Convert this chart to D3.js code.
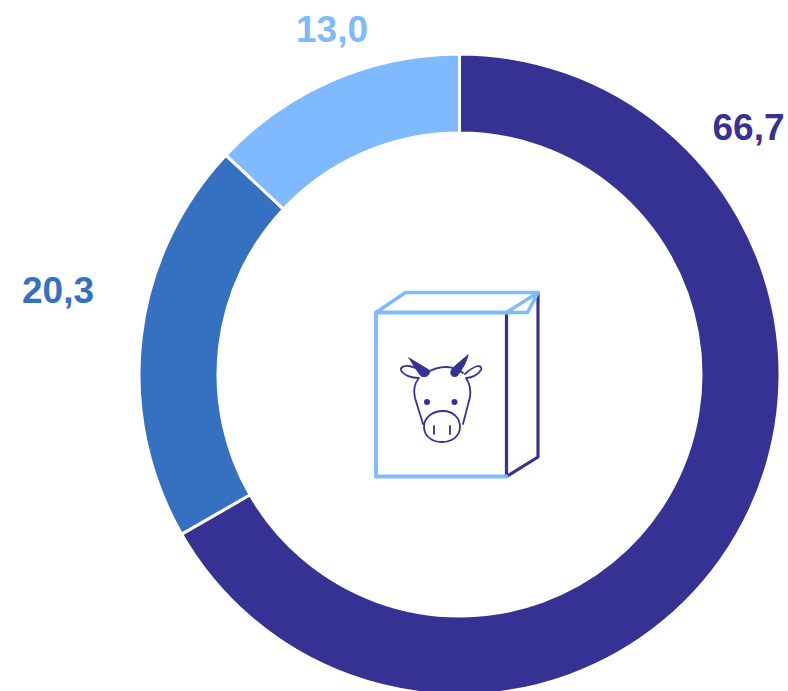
<!DOCTYPE html>
<html>
<head>
<meta charset="utf-8">
<script src="https://cdn.jsdelivr.net/npm/d3@7"></script>
<style>
    html, body { margin: 0; padding: 0; background: #fff; overflow: hidden; }
    svg { display: block; }
</style>
</head>
<body>
<div id="main"></div>
<script>
const labels = ["66,7", "20,3", "13,0"];
const values = [66.7, 20.3, 13.0];
const colors = ["#363294", "#3670c0", "#7ebafd"];

// radii include the part the white stroke eats on each edge
const ctx = { w: 788, h: 691, cx: 459.5, cy: 374.5, rOuter: 320.5, rInner: 241.5 };
const DARK = colors[0];
const LIGHT = colors[2];

// label anchors (same order as labels)
const LABEL_POS = [[748.5, 140], [58, 303], [332, 42]];

function createViz() {
    let svgEl = d3.select("#main").append("svg")
        .attr("width", ctx.w)
        .attr("height", ctx.h);
    drawDonut(svgEl);
    drawLabels(svgEl);
    drawIcon(svgEl);
}

function drawDonut(svgEl) {
    let pie = d3.pie().sort(null);
    let arc = d3.arc().innerRadius(ctx.rInner).outerRadius(ctx.rOuter);
    svgEl.append("g")
        .attr("transform", `translate(${ctx.cx},${ctx.cy})`)
        .selectAll("path")
        .data(pie(values))
        .enter()
        .append("path")
        .attr("d", arc)
        .attr("fill", (d, i) => colors[i])
        .attr("stroke", "#fff")
        .attr("stroke-width", 3);
}

function drawLabels(svgEl) {
    svgEl.selectAll("text.label")
        .data(labels)
        .enter()
        .append("text")
        .attr("class", "label")
        .attr("x", (d, i) => LABEL_POS[i][0])
        .attr("y", (d, i) => LABEL_POS[i][1])
        .attr("text-anchor", "middle")
        .attr("font-family", "'Liberation Sans', Arial, sans-serif")
        .attr("font-weight", "bold")
        .attr("font-size", 37)
        .attr("fill", (d, i) => colors[i])
        .text(d => d);
}

// milk carton with the cow head in the middle of the ring
function drawIcon(svgEl) {
    let g = svgEl.append("g")
        .attr("fill", "none")
        .attr("stroke-linejoin", "round")
        .attr("stroke-linecap", "round");

    // side of the carton
    g.append("path")
        .attr("d", "M506.5,312.5V476.5L538,457V292.5")
        .attr("stroke", DARK)
        .attr("stroke-width", 3.2);

    // front, top and flap
    g.append("path")
        .attr("d", "M506.5,312.5H376V476.5H506.5")
        .attr("stroke", LIGHT)
        .attr("stroke-width", 3.8);
    g.append("path")
        .attr("d", "M376,312.5L405.5,292.5H538L506.5,312.5M538,292.5L527.5,312.5H506.5")
        .attr("stroke", LIGHT)
        .attr("stroke-width", 3.4);

    // cow head
    let cow = g.append("g")
        .attr("stroke", DARK)
        .attr("stroke-width", 1.8);
    cow.append("path")
        .attr("d", "M426,373C431,370 438,367 446,367C453,367 459,370 463,373"
            + "M424,374C421,371 415,367 409,366C404,365 400,368 401,370C403,375 411,378 419,378"
            + "M465,374C468,371 474,367 478,366C481,366 482,368 481,370C478,375 471,378 466,378"
            + "M419,378C414,384 413,390 415,398L423,424"
            + "M466,378C470,384 471,390 470,397L463,424"
            + "M424,427C424,417 433,411 443,411C453,411 460,418 460,427C460,436 452,442 442,442C432,442 424,436 424,427Z"
            + "M434,426V434M450,426V434");
    cow.append("path")
        .attr("fill", DARK)
        .attr("stroke-width", 1)
        .attr("d", "M409,358L429,370C431,375 426,378 421,376C417,371 413,364 409,358Z"
            + "M468,355C467,361 462,370 457,376C452,378 449,374 452,369C457,364 463,359 468,355Z");
    cow.append("circle").attr("cx", 427).attr("cy", 402).attr("r", 3).attr("fill", DARK).attr("stroke", "none");
    cow.append("circle").attr("cx", 454.5).attr("cy", 402).attr("r", 3).attr("fill", DARK).attr("stroke", "none");
}

createViz();
</script>
</body>
</html>
